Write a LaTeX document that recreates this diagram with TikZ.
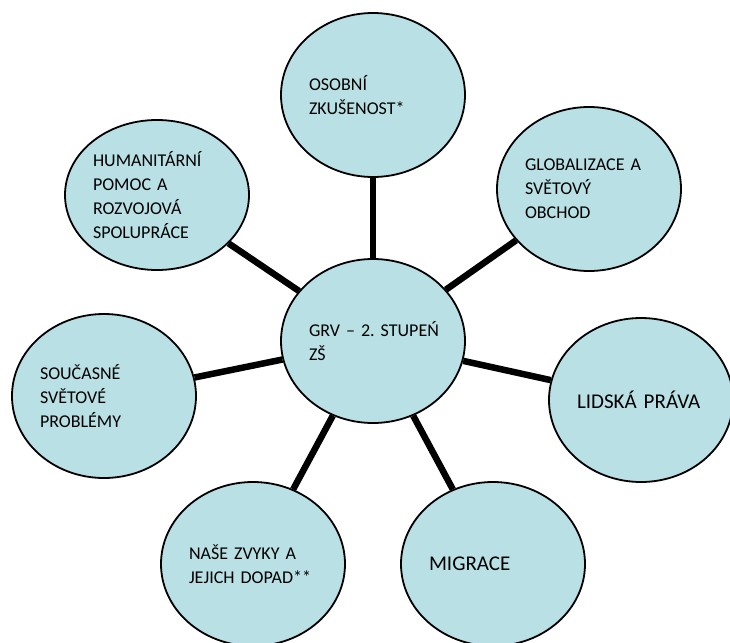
\documentclass[tikz,border=0pt]{standalone}
\usepackage{fontspec}
\setmainfont{Carlito}
\frenchspacing
\usetikzlibrary{shapes.geometric}
\definecolor{bubble}{RGB}{185,224,229}
\begin{document}
\begin{tikzpicture}[x=1pt,y=-1pt]
				\tikzstyle{Bubble} = [ellipse, draw, line width=1.8pt, fill=bubble, minimum width=184, minimum height=164, inner sep=0pt, text width=128, align=left, font=\fontsize{18}{24}\selectfont]
				\tikzstyle{Big} = [font=\fontsize{21}{26}\selectfont]
				\useasboundingbox (0,0) rectangle (730,642);
				\node (0) at (373,341) [Bubble] {\mbox{GRV – 2. STUPEŃ}\\ZŠ};
				\node (1) at (373,95) [Bubble] {OSOBNÍ\\ZKUŠENOST*};
				\node (2) at (589,189) [Bubble] {\mbox{GLOBALIZACE A}\\SVĚTOVÝ\\OBCHOD};
				\node (3) at (641,400) [Bubble, Big] {\mbox{LIDSKÁ PRÁVA}};
				\node (4) at (493,564) [Bubble, Big] {MIGRACE};
				\node (5) at (253,564) [Bubble] {\mbox{NAŠE ZVYKY A}\\\mbox{JEJICH DOPAD**}};
				\node (6) at (104,396) [Bubble] {SOUČASNÉ\\SVĚTOVÉ\\PROBLÉMY};
				\node (7) at (157,195) [Bubble, minimum height=150] {\mbox{HUMANITÁRNÍ}\\POMOC A\\\mbox{ROZVOJOVÁ}\\\mbox{SPOLUPRÁCE}};
				\draw[line width=6.5pt] [-] (0) to (1);
				\draw[line width=6.5pt] [-] (0) to (2);
				\draw[line width=6.5pt] [-] (0) to (3);
				\draw[line width=6.5pt] [-] (0) to (4);
				\draw[line width=6.5pt] [-] (0) to (5);
				\draw[line width=6.5pt] [-] (0) to (6);
				\draw[line width=6.5pt] [-] (0) to (7);
			\end{tikzpicture}
\end{document}
